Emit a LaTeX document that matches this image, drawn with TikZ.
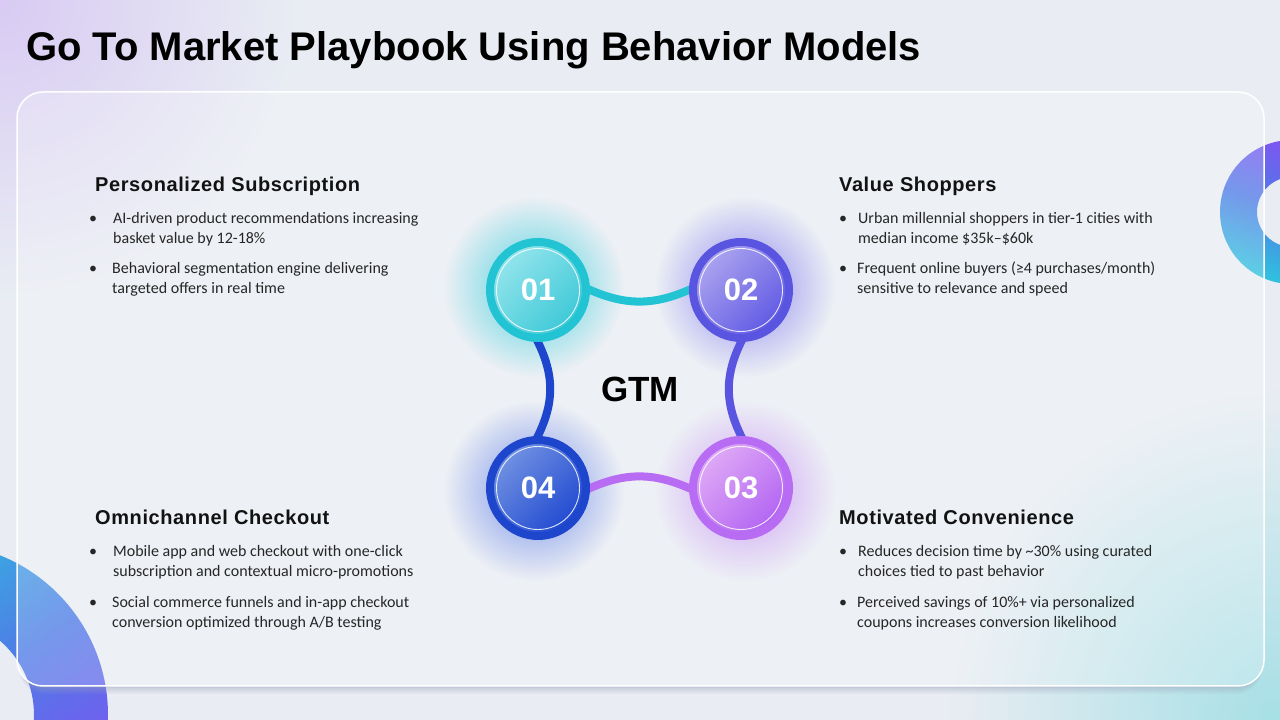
\documentclass[tikz,border=0pt]{standalone}
\usepackage{fontspec}
\setmainfont{Carlito}
\newfontfamily\titlefont{Liberation Sans}
\newfontfamily\headfont{Liberation Sans}[LetterSpace=3]
\usetikzlibrary{fadings}
\pgfdeclarelayer{back}
\pgfdeclarelayer{mid}
\pgfsetlayers{back,mid,main}
\definecolor{bgbase}{HTML}{E9EDF3}
\definecolor{tlpurple}{HTML}{D9CBF4}
\definecolor{brteal}{HTML}{A6E0E6}
\definecolor{decopurple}{HTML}{8450F4}
\definecolor{decoblue}{HTML}{4F7BE6}
\definecolor{decocyan}{HTML}{2FC2DE}
\definecolor{tealring}{HTML}{22C3D3}
\definecolor{tealA}{HTML}{95E5EC}
\definecolor{tealB}{HTML}{3CC8D7}
\definecolor{indring}{HTML}{5A55E0}
\definecolor{indA}{HTML}{ADA6EF}
\definecolor{indB}{HTML}{5F58E4}
\definecolor{bluering}{HTML}{1E46CC}
\definecolor{blueA}{HTML}{7393E2}
\definecolor{blueB}{HTML}{1F48D0}
\definecolor{purpring}{HTML}{B86CF3}
\definecolor{purpA}{HTML}{E0ACF6}
\definecolor{purpB}{HTML}{B263F2}
\definecolor{tealglow}{HTML}{4FD2DF}
\definecolor{indglow}{HTML}{8E89F0}
\definecolor{blueglow}{HTML}{7590EA}
\definecolor{purpglow}{HTML}{CFA0F6}
\definecolor{txt}{HTML}{262626}
\definecolor{shadowcol}{HTML}{9AA3BA}
\tikzfading[name=softfade, inner color=transparent!0, outer color=transparent!100]
\begin{document}
\begin{tikzpicture}[x=1pt,y=1pt,
  numcircle/.style={circle, minimum size=96, inner sep=0, line width=8,
    font=\titlefont\bfseries\fontsize{31}{36}\selectfont, text=white},
  conn/.style={line width=8, shorten <=-6, shorten >=-6},
  head/.style={font=\headfont\bfseries\fontsize{20}{24}\selectfont, anchor=base west, inner sep=0, text=black!93},
  body/.style={font=\fontsize{16}{20}\selectfont, anchor=base west, inner sep=0, text=txt},
  inring/.style={draw=white, line width=0.9, opacity=0.85}
]
\useasboundingbox (0,0) rectangle (1280,720);

% ---------- background ----------
\begin{pgfonlayer}{back}
\fill[bgbase] (0,0) rectangle (1280,720);
\fill[tlpurple, path fading=softfade] (0,720) circle (300);
\fill[brteal, path fading=softfade] (1280,0) circle (330);
% decorative rings
\shade[even odd rule, top color=decopurple, bottom color=decocyan, middle color=decoblue, shading angle=-20]
  (1292,508) circle (72) (1292,508) circle (35);
\shade[even odd rule, top color=decocyan, bottom color=decopurple, middle color=decoblue, shading angle=35]
  (-64,5) circle (172) (-64,5) circle (98);
% card shadow (outside the card only) and card
\begin{scope}[even odd rule, rounded corners=26]
\clip (-40,-40) rectangle (1320,760) (17,34) rectangle (1264,628);
\foreach \d/\o in {8/0.10,6/0.12,4/0.15,2/0.18}{
  \fill[shadowcol, opacity=\o] (19,34-\d) rectangle (1262,600);
}
\end{scope}
\path[fill=white, fill opacity=0.22, draw=white, line width=1.5, rounded corners=26]
  (17,34) rectangle (1264,628);
\end{pgfonlayer}

% ---------- circles ----------
\node[numcircle, draw=tealring, top color=tealA, bottom color=tealB, shading angle=45] (c1) at (538,430) {01};
\node[numcircle, draw=indring, top color=indA, bottom color=indB, shading angle=45] (c2) at (741,430) {02};
\node[numcircle, draw=purpring, top color=purpA, bottom color=purpB, shading angle=45] (c3) at (741,232) {03};
\node[numcircle, draw=bluering, top color=blueA, bottom color=blueB, shading angle=45] (c4) at (538,232) {04};
\foreach \c in {c1,c2,c3,c4}{ \draw[inring] (\c.center) circle (41.5); }

\node[font=\titlefont\bfseries\fontsize{35}{40}\selectfont, inner sep=0] (gtm) at (640,330.5) {GTM};

% ---------- glows and connectors ----------
\begin{pgfonlayer}{mid}
\fill[tealglow, path fading=softfade] ([shift={(-4,3)}]c1.center) circle (90);
\fill[indglow, path fading=softfade] ([shift={(4,3)}]c2.center) circle (90);
\fill[purpglow, path fading=softfade] ([shift={(4,-3)}]c3.center) circle (90);
\fill[blueglow, path fading=softfade] ([shift={(-4,-3)}]c4.center) circle (90);
\draw[conn, tealring] (c1.east) to[out=-25, in=-155] (c2.west);
\draw[conn, indring] (c2.south) to[out=-118, in=118] (c3.north);
\draw[conn, purpring] (c4.east) to[out=25, in=155] (c3.west);
\draw[conn, bluering] (c1.south) to[out=-62, in=62] (c4.north);
\end{pgfonlayer}

% ---------- title ----------
\node[font=\titlefont\bfseries\fontsize{40}{48}\selectfont, anchor=base west, inner sep=0, text=black] (title)
  at (26,659) {Go To Market Playbook Using Behavior Models};

% ---------- top left ----------
\node[head] (h1) at (95,528) {Personalized Subscription};
\node[body] (b1a) at (89,496) {•};
\node[body] (t1a) at (113,496) {\parbox[t]{340pt}{AI-driven product recommendations increasing\\basket value by 12-18\%}};
\node[body] (b1b) at (89,446) {•};
\node[body] (t1b) at (112,446) {\parbox[t]{340pt}{Behavioral segmentation engine delivering\\targeted offers in real time}};

% ---------- top right ----------
\node[head] (h2) at (839,528) {Value Shoppers};
\node[body] (b2a) at (839,496) {•};
\node[body] (t2a) at (858,496) {\parbox[t]{340pt}{Urban millennial shoppers in tier-1 cities with\\median income \$35k–\$60k}};
\node[body] (b2b) at (839,446) {•};
\node[body] (t2b) at (857,446) {\parbox[t]{340pt}{Frequent online buyers (≥4 purchases/month)\\sensitive to relevance and speed}};

% ---------- bottom left ----------
\node[head] (h4) at (95,195) {Omnichannel Checkout};
\node[body] (b4a) at (89,163) {•};
\node[body] (t4a) at (113,163) {\parbox[t]{340pt}{Mobile app and web checkout with one-click\\subscription and contextual micro-promotions}};
\node[body] (b4b) at (89,112) {•};
\node[body] (t4b) at (112,112) {\parbox[t]{340pt}{Social commerce funnels and in-app checkout\\conversion optimized through A/B testing}};

% ---------- bottom right ----------
\node[head] (h3) at (839,195) {Motivated Convenience};
\node[body] (b3a) at (839,163) {•};
\node[body] (t3a) at (858,163) {\parbox[t]{340pt}{Reduces decision time by \textasciitilde30\% using curated\\choices tied to past behavior}};
\node[body] (b3b) at (839,112) {•};
\node[body] (t3b) at (857,112) {\parbox[t]{340pt}{Perceived savings of 10\%+ via personalized\\coupons increases conversion likelihood}};
\end{tikzpicture}
\end{document}
